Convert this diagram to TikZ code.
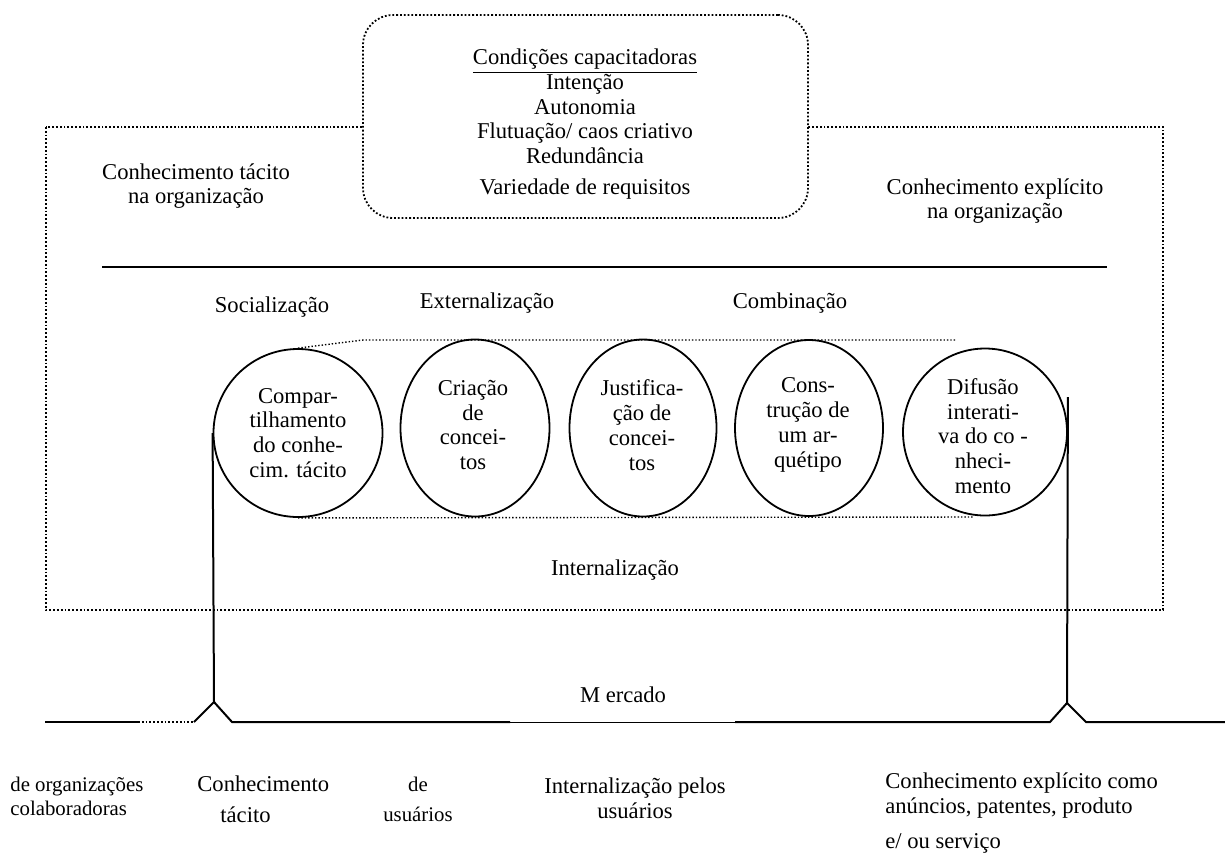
\documentclass[tikz,border=0pt]{standalone}
\usepackage{fontspec}
\setmainfont{Liberation Serif}
\usetikzlibrary{shapes.geometric}

\begin{document}
\begin{tikzpicture}[x=0.5pt,y=-0.5pt]
	\tikzstyle{every node}=[font=\fontsize{11.3}{12.4}\selectfont, align=center, inner sep=0pt]
	\tikzstyle{menor}=[font=\fontsize{10.4}{12}\selectfont]
	\tikzstyle{etapa}=[draw, ellipse, line width=0.9pt]
	\tikzstyle{pontilhado}=[densely dotted, line width=0.9pt]
	\tikzstyle{linha}=[line width=1pt]
	\useasboundingbox (0,0) rectangle (1225,852);
	\draw[pontilhado] (46,127) rectangle (1163,610);
	\node[draw, pontilhado, fill=white, rounded corners=15pt, minimum width=222.5pt, minimum height=101.5pt] (cond) at (585.5,116.5) {};
	\node (condtxt) at (585,124) {\underline{Condições capacitadoras}\\Intenção\\Autonomia\\Flutuação/ caos criativo\\Redundância\\[3pt]Variedade de requisitos};
	\node (tacorg) at (196,186) {Conhecimento tácito\\na organização};
	\node (exporg) at (995,201) {Conhecimento explícito\\na organização};
	\draw[linha] (102,267) -- (1107,267);
	\node (soc) at (272,307) {Socialização};
	\node (ext) at (487,303) {Externalização};
	\node (comb) at (790,303) {Combinação};
	\node[etapa, minimum width=84.5pt, minimum height=84pt] (c1) at (298,433) {};
	\node[etapa, minimum width=74.5pt, minimum height=88.5pt] (c2) at (475,428) {};
	\node[etapa, minimum width=73.5pt, minimum height=88.5pt] (c3) at (643,428) {};
	\node[etapa, minimum width=74pt, minimum height=88pt] (c4) at (809,428) {};
	\node[etapa, minimum width=82pt, minimum height=83.5pt] (c5) at (985,432) {};
	\node (t1) at (298,433) {Compar-\\tilhamento\\do conhe-\\cim. tácito};
	\node (t2) at (473,425) {Criação\\de\\concei-\\tos};
	\node (t3) at (642,425) {Justifica-\\ção de\\concei-\\tos};
	\node (t4) at (808,425) {Cons-\\trução de\\um ar-\\quétipo};
	\node (t5) at (983,436) {Difusão\\interati-\\va do co -\\nheci-\\mento};
	\draw[pontilhado, line width=0.7pt] (c1.north) -- (363,340) -- (957,340);
	\draw[pontilhado, line width=0.7pt] (c1.south) -- (973,517);
	\node (intern) at (615,570) {Internalização};
	\coordinate (apexL) at (214,702);
	\coordinate (apexR) at (1067,703);
	\draw[linha] (c1.west) -- (apexL);
	\draw[linha] ([yshift=17.5pt]c5.east) -- (apexR);
	\node (merc) at (623,695) {M ercado};
	\draw[linha] (45,722) -- (138,722);
	\draw[pontilhado] (138,722) -- (194,722);
	\draw[linha] (194,722) -- (apexL) -- (232,722) -- (510,722);
	\draw[line width=0.5pt] (510,722) -- (735,722);
	\draw[linha] (735,722) -- (1050,722) -- (apexR) -- (1086,722) -- (1225,722);
	\node[menor, anchor=west, align=left] (colab) at (10,796) {de organizações\\colaboradoras};
	\node[anchor=west, align=left] (tacito) at (197,799) {Conhecimento\\[3pt]\hspace*{11.5pt}tácito};
	\node[menor] (usu) at (418,799) {de\\[3pt]usuários};
	\node (intusu) at (635,798) {Internalização pelos\\usuários};
	\node[anchor=west, align=left] (explic) at (885,813) {Conhecimento explícito como\\anúncios, patentes, produto\\[5pt]e/ ou serviço};
\end{tikzpicture}
\end{document}
